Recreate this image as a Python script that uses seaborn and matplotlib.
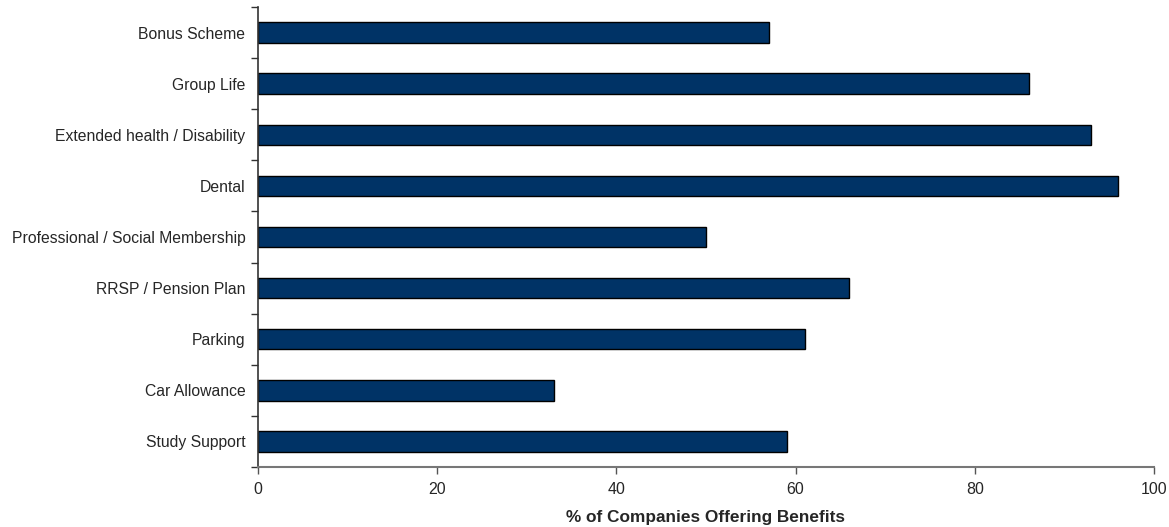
import matplotlib
matplotlib.use("Agg")
import matplotlib.pyplot as plt
import seaborn as sns
import pandas as pd
import numpy as np
from matplotlib.ticker import FixedLocator

categories = ["Bonus Scheme", "Group Life", "Extended health / Disability", "Dental",
              "Professional / Social Membership", "RRSP / Pension Plan", "Parking",
              "Car Allowance", "Study Support"]
values = [57, 86, 93, 96, 50, 66, 61, 33, 59]
xticks = [0, 20, 40, 60, 80, 100]

sns.set_style("white")
plt.rcParams['font.family'] = ['Liberation Sans', 'DejaVu Sans']

df = pd.DataFrame({"benefit": categories, "pct": values})

fig = plt.figure(figsize=(11.69, 5.27), dpi=100)
ax = fig.add_axes([258/1169, 1 - 467/527, (1154 - 258)/1169, (467 - 7)/527])

sns.barplot(data=df, y="benefit", x="pct", orient="h", order=categories,
            color="#003366", saturation=1, width=0.4, edgecolor="black",
            linewidth=1.0, ax=ax)

ax.set_xlim(0, 100)
ax.set_ylim(len(categories) - 0.5, -0.5)
ax.set_xticks(xticks)
ax.set_xticklabels([str(t) for t in xticks], fontsize=11.5)
ax.set_yticks(range(len(categories)))
ax.set_yticklabels(categories, fontsize=11.3)
ax.yaxis.set_minor_locator(FixedLocator(np.arange(-0.5, len(categories), 1.0)))
ax.tick_params(axis="y", which="major", length=0, pad=9)
ax.tick_params(axis="y", which="minor", length=5, width=1, color="#333333", direction="out", left=True)
ax.tick_params(axis="x", which="major", length=5, width=1, color="#555555", direction="out", bottom=True, pad=6)

ax.set_ylabel("")
ax.set_xlabel("% of Companies Offering Benefits", fontsize=12.4, fontweight="bold", labelpad=9)

for s in ["top", "right"]:
    ax.spines[s].set_visible(False)
ax.spines["left"].set_color("#333333")
ax.spines["bottom"].set_color("#777777")
ax.spines["left"].set_linewidth(1.2)
ax.spines["bottom"].set_linewidth(1.5)

fig.savefig("out.png", dpi=100)
